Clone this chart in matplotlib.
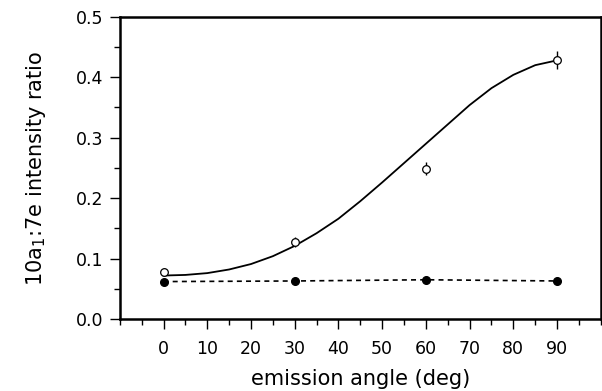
import numpy as np
import matplotlib
matplotlib.use('Agg')
import matplotlib.pyplot as plt
from matplotlib.ticker import MultipleLocator, FixedLocator

# measured points
angles = [0, 30, 60, 90]
open_vals = [0.078, 0.127, 0.249, 0.428]
open_err = [0.007, 0.008, 0.010, 0.015]
filled_vals = [0.062, 0.063, 0.065, 0.063]

# fitted curve
fit_x = [0, 5, 10, 15, 20, 25, 30, 35, 40, 45, 50, 55, 60, 65, 70, 75, 80, 85, 90]
fit_y = [0.072, 0.073, 0.076, 0.082, 0.091, 0.104, 0.121, 0.142, 0.166, 0.195,
         0.226, 0.258, 0.290, 0.322, 0.354, 0.382, 0.404, 0.420, 0.428]

plt.rcParams['font.family'] = ['DejaVu Sans']

fig = plt.figure(figsize=(6.02, 3.91), dpi=100)
ax = fig.add_axes([0.199, 0.184, 0.799, 0.773])

ax.plot(fit_x, fit_y, '-', color='black', lw=1.3)
ax.plot(angles, filled_vals, '--', color='black', lw=1.2, dashes=(3, 2.5),
        marker='o', ms=5.5, mfc='black', mec='black')
ax.errorbar(angles, open_vals, yerr=open_err, fmt='o', ms=5.5, mfc='white',
            mec='black', mew=0.9, ecolor='black', elinewidth=1.0, capsize=0, zorder=5)

ax.set_xlim(-10, 100)
ax.set_ylim(0, 0.5)
ax.xaxis.set_major_locator(FixedLocator([0, 10, 20, 30, 40, 50, 60, 70, 80, 90]))
ax.xaxis.set_minor_locator(MultipleLocator(5))
ax.set_yticks([0, 0.1, 0.2, 0.3, 0.4, 0.5])
ax.set_yticklabels(['0.0', '0.1', '0.2', '0.3', '0.4', '0.5'])
ax.yaxis.set_minor_locator(MultipleLocator(0.05))

ax.tick_params(axis='both', which='major', direction='out', length=7, width=1,
               labelsize=12.5, pad=5)
ax.tick_params(axis='both', which='minor', direction='out', length=4, width=1)
ax.tick_params(axis='x', which='major', pad=8)

for sp in ax.spines.values():
    sp.set_linewidth(1.8)

ax.set_xlabel('emission angle (deg)', fontsize=15, labelpad=8)
ax.set_ylabel(r'10a$_1$:7e intensity ratio', fontsize=15, labelpad=20)

fig.savefig('out.png', dpi=100)
